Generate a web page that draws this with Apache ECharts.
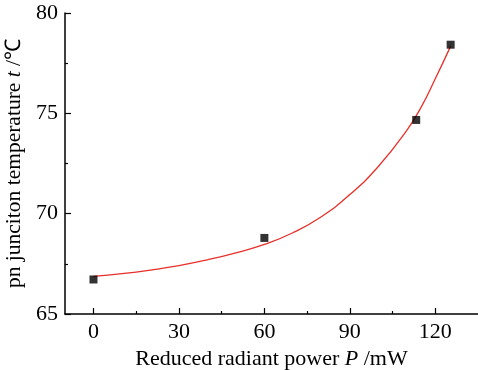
<!DOCTYPE html>
<html>
<head>
<meta charset="utf-8">
<script src="https://cdn.jsdelivr.net/npm/echarts@6/dist/echarts.min.js"></script>
<style>
  html, body { margin: 0; padding: 0; background: #fff; }
  #chart { width: 478px; height: 370px; }
</style>
</head>
<body>
<div id="chart"></div>
<script>
// measured points
const powerMeasured = [0, 60, 113.3, 125.4];
const tempMeasured = [66.72, 68.79, 74.67, 78.42];

// fitted curve
const powerFit = [0, 10, 20, 30, 40, 50, 60, 70, 80, 90, 100, 110, 115, 120, 125.4];
const tempFit = [66.87, 67.01, 67.19, 67.41, 67.7, 68.05, 68.47, 69.05, 69.85, 70.95, 72.35, 74.15, 75.3, 76.72, 78.35];

const xMajorTicks = [0, 30, 60, 90, 120];
const xMinorTicks = [15, 45, 75, 105];

const font = "Liberation Serif";
const chart = echarts.init(document.getElementById("chart"));

const zip = (xs, ys) => xs.map((x, i) => [x, ys[i]]);

chart.setOption({
  animation: false,
  backgroundColor: "#fff",
  grid: { left: 65, right: 0, top: 13, bottom: 56, outerBoundsMode: "none" },
  xAxis: [
    {
      type: "value",
      min: -10,
      max: 135,
      name: "{a|Reduced radiant power }{i|P}{a| /mW}",
      nameLocation: "middle",
      nameGap: 33,
      nameTextStyle: {
        rich: {
          a: { fontFamily: font, fontSize: 22, color: "#000" },
          i: { fontFamily: font, fontSize: 22, fontStyle: "italic", color: "#000" },
        },
      },
      axisLine: { onZero: false, lineStyle: { color: "#000", width: 1.5 } },
      axisTick: { inside: true, length: 6, customValues: xMajorTicks, lineStyle: { color: "#000", width: 1.2 } },
      axisLabel: { customValues: xMajorTicks, margin: 7, fontFamily: font, fontSize: 22, color: "#000" },
      splitLine: { show: false },
    },
    {
      type: "value",
      min: -10,
      max: 135,
      position: "bottom",
      axisLine: { show: false },
      axisTick: { inside: true, length: 3, customValues: xMinorTicks, lineStyle: { color: "#000", width: 1.2 } },
      axisLabel: { show: false },
      splitLine: { show: false },
    },
  ],
  yAxis: {
    type: "value",
    min: 65,
    max: 80,
    interval: 5,
    name: "{a|pn junciton temperature }{i|t}{a| /℃}",
    nameLocation: "middle",
    nameRotate: 90,
    nameGap: 36,
    nameTextStyle: {
      rich: {
        a: { fontFamily: font, fontSize: 21.5, color: "#000" },
        i: { fontFamily: font, fontSize: 21.5, fontStyle: "italic", color: "#000" },
      },
    },
    axisLine: { show: true, onZero: false, lineStyle: { color: "#000", width: 1.5 } },
    axisTick: { inside: true, length: 6, lineStyle: { color: "#000", width: 1.2 } },
    minorTick: { show: true, splitNumber: 2, length: 3, lineStyle: { color: "#000", width: 1.2 } },
    axisLabel: { margin: 7, fontFamily: font, fontSize: 22, color: "#000" },
    splitLine: { show: false },
  },
  series: [
    {
      type: "line",
      data: zip(powerFit, tempFit),
      smooth: 0.5,
      showSymbol: false,
      lineStyle: { color: "#e8302a", width: 1.3 },
      z: 2,
    },
    {
      type: "scatter",
      data: zip(powerMeasured, tempMeasured),
      symbol: "rect",
      symbolSize: 8,
      itemStyle: { color: "#000" },
      z: 3,
    },
  ],
});
</script>
</body>
</html>
